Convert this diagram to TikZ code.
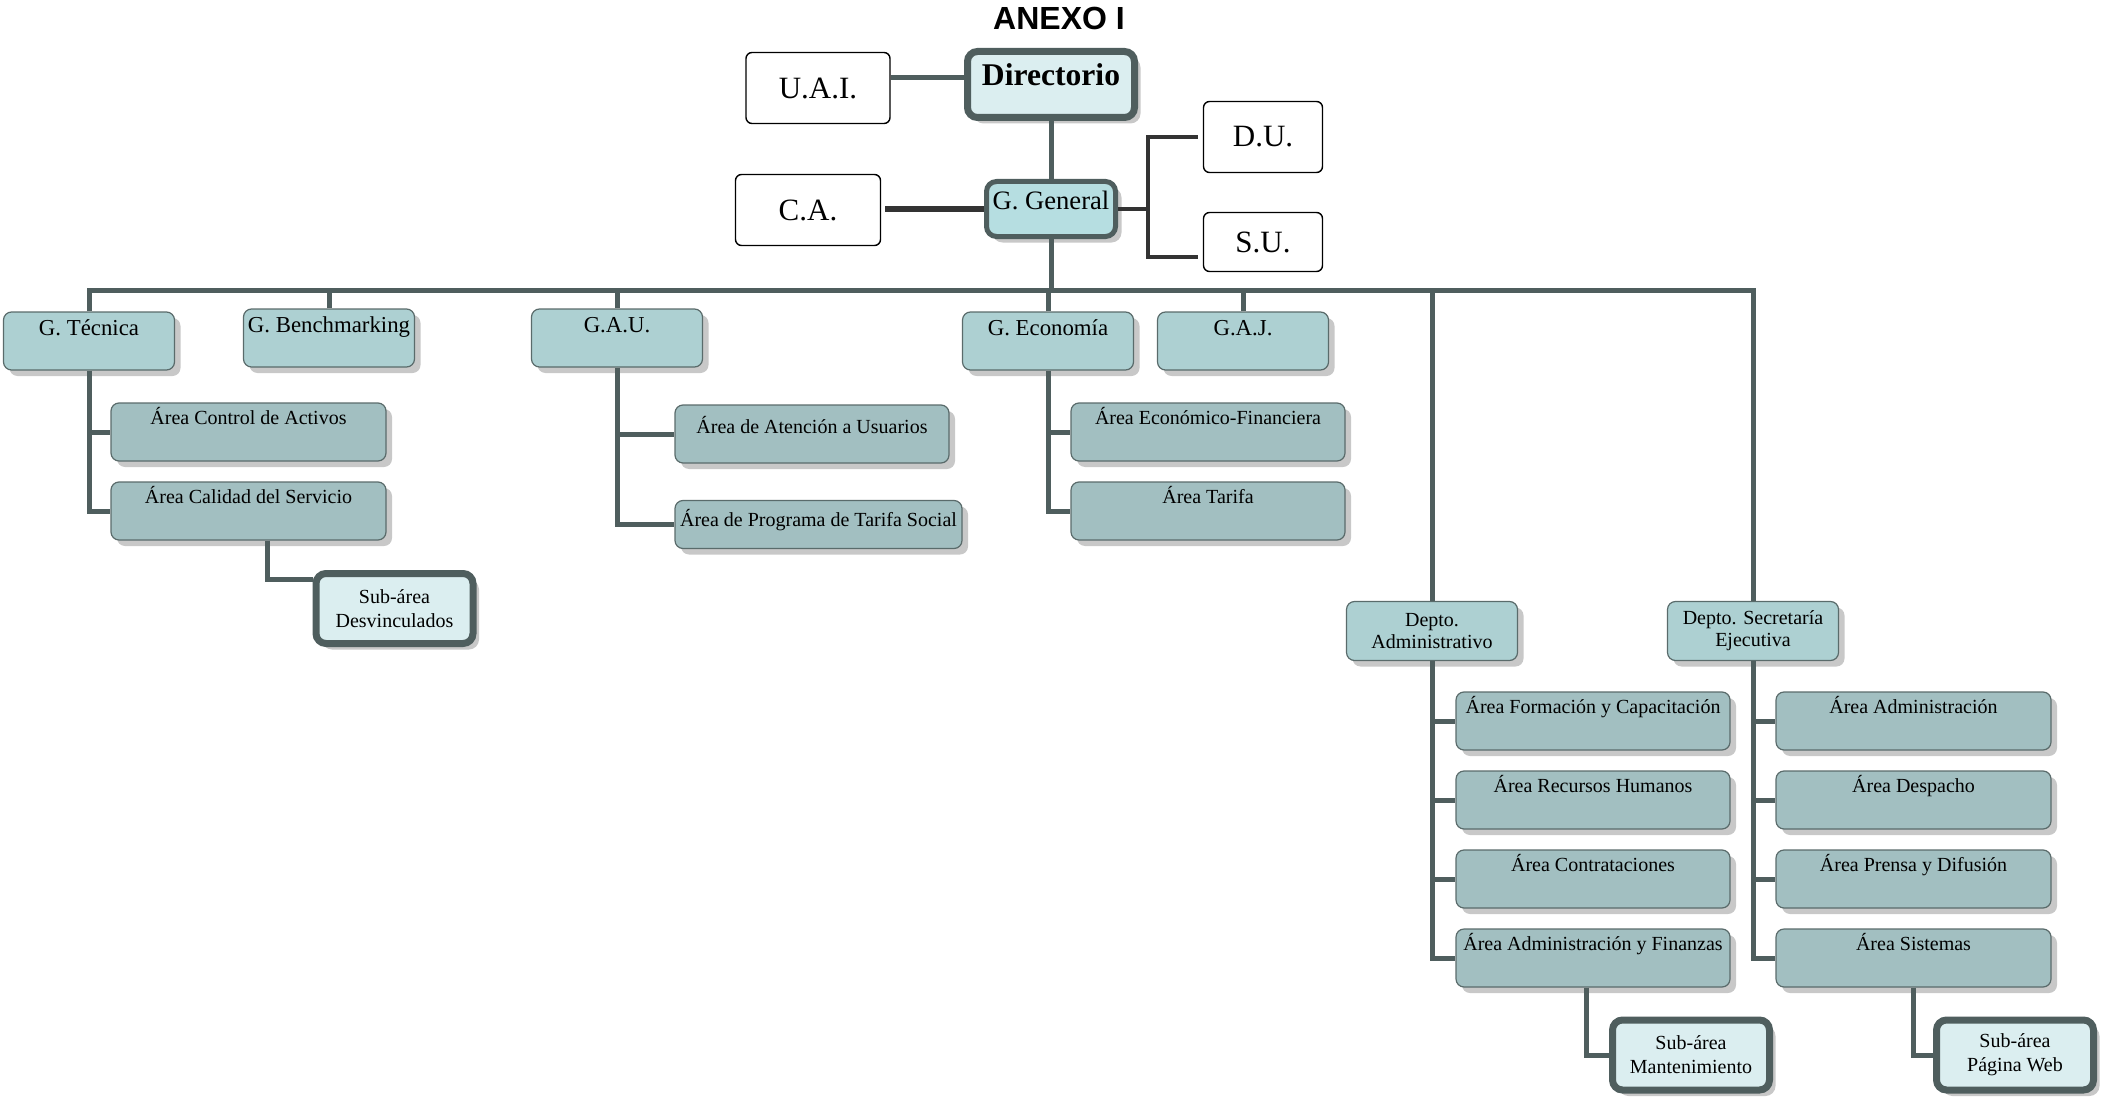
\documentclass[tikz,border=0pt]{standalone}
\usepackage{fontspec}
\setmainfont{Liberation Serif}
\newfontfamily\titlefont{Liberation Sans}
\usetikzlibrary{shadows}

\definecolor{pizarra}{RGB}{79,94,94}
\definecolor{oscuro}{RGB}{51,51,51}
\definecolor{borde}{RGB}{90,107,107}
\definecolor{celeste}{RGB}{219,238,240}
\definecolor{celgen}{RGB}{182,222,225}
\definecolor{gerfill}{RGB}{173,208,210}
\definecolor{areafill}{RGB}{162,191,193}
\definecolor{sombra}{RGB}{200,200,200}

\tikzset{
  simple/.style={draw=black, line width=0.7pt, rounded corners=3pt, fill=white,
    inner sep=0pt, font=\fontsize{15.5}{18}\selectfont},
  conSombra/.style={drop shadow={shadow xshift=3pt, shadow yshift=-3pt, fill=sombra, opacity=1}},
  jefe/.style={conSombra, draw=pizarra, line width=3.5pt, rounded corners=5pt, fill=celeste,
    inner sep=0pt, align=center},
  gerencia/.style={conSombra, draw=borde, line width=0.6pt, rounded corners=4pt, fill=gerfill,
    inner sep=0pt, minimum width=85.5pt, text height=11.8pt, text depth=17.2pt,
    font=\fontsize{11.4}{13}\selectfont},
  depto/.style={conSombra, draw=borde, line width=0.6pt, rounded corners=4pt, fill=gerfill,
    inner sep=0pt, minimum width=85.5pt, minimum height=29.5pt, align=center,
    font=\fontsize{10}{11}\selectfont},
  area/.style={conSombra, draw=borde, line width=0.6pt, rounded corners=4pt, fill=areafill,
    inner sep=0pt, minimum width=137pt, text height=10.8pt, text depth=18.2pt,
    font=\fontsize{10}{12}\selectfont},
  subarea/.style={jefe, minimum width=78.5pt, minimum height=35pt,
    font=\fontsize{10}{12}\selectfont},
  link/.style={draw=pizarra, line width=2.5pt}
}

\begin{document}
\begin{tikzpicture}[x=0.5pt, y=-0.5pt]
\useasboundingbox (0,0) rectangle (2105,1102);

\node (titulo) at (1059,18.5) {\titlefont\bfseries\fontsize{16}{18}\selectfont ANEXO I};

% direccion
\node[simple, minimum width=72pt, minimum height=35.5pt] (uai) at (818,88) {U.A.I.};
\node[jefe, minimum width=83.5pt, text height=17pt, text depth=16pt,
  font=\fontsize{15.8}{18}\selectfont] (dir) at (1051,84.5) {\bfseries Directorio};
\node[simple, minimum width=72.5pt, minimum height=35.5pt] (ca) at (808,210) {C.A.};
\node[jefe, fill=celgen, line width=2.5pt, minimum width=64.5pt, text height=13.9pt,
  text depth=13.6pt, font=\fontsize{13.3}{15}\selectfont] (gg) at (1051,209) {G. General};
\node[simple, minimum width=59.5pt, minimum height=35.5pt] (du) at (1263,137) {D.U.};
\node[simple, minimum width=59.5pt, minimum height=29.5pt] (su) at (1263,242) {S.U.};

% gerencias
\node[gerencia] (gtec) at (89,341) {G. Técnica};
\node[gerencia] (gben) at (329,338) {G. Benchmarking};
\node[gerencia] (gau) at (617,338) {G.A.U.};
\node[gerencia] (geco) at (1048,341) {G. Economía};
\node[gerencia] (gaj) at (1243,341) {G.A.J.};
\node[depto] (dadm) at (1432,631) {Depto.\\Administrativo};
\node[depto] (dsec) at (1753,631) {Depto. Secretaría\\Ejecutiva};

% areas
\node[area, minimum width=137.5pt] (acon) at (248.5,432) {Área Control de Activos};
\node[area, minimum width=137.5pt] (acal) at (248.5,511) {Área Calidad del Servicio};
\node[area, text height=14pt, text depth=15pt] (aatu) at (812,434) {Área de Atención a Usuarios};
\node[area, minimum width=143.5pt, text height=12.8pt, text depth=11.2pt] (aprog) at (818.5,524.5) {Área de Programa de Tarifa Social};
\node[area] (aeco) at (1208,432) {Área Económico-Financiera};
\node[area] (atar) at (1208,511) {Área Tarifa};
\node[area] (aform) at (1593,721) {Área Formación y Capacitación};
\node[area] (arrhh) at (1593,800) {Área Recursos Humanos};
\node[area] (acont) at (1593,879) {Área Contrataciones};
\node[area] (afin) at (1593,958) {Área Administración y Finanzas};
\node[area, minimum width=137.5pt] (aadm) at (1913.5,721) {Área Administración};
\node[area, minimum width=137.5pt] (adesp) at (1913.5,800) {Área Despacho};
\node[area, minimum width=137.5pt] (apren) at (1913.5,879) {Área Prensa y Difusión};
\node[area, minimum width=137.5pt] (asis) at (1913.5,958) {Área Sistemas};

% sub-areas
\node[subarea] (sdes) at (394.5,608.5) {Sub-área\\Desvinculados};
\node[subarea] (smant) at (1691,1055) {Sub-área\\Mantenimiento};
\node[subarea] (sweb) at (2015,1055) {Sub-área\\Página Web};

% enlaces
\draw[link] ([yshift=3.5pt]dir.west) -- ([yshift=3.5pt]dir.west -| uai.east);
\draw[link] (dir.south) -- (gg.north);
\draw[link, draw=oscuro, line width=3pt, shorten >=2pt] (gg.west) -- (gg.west -| ca.east);
\coordinate (horq) at (1148,209);
\draw[link, draw=oscuro, line width=2pt] (gg.east) -- (horq);
\draw[link, draw=oscuro, line width=2pt, shorten <=2.5pt, shorten >=2.5pt]
  ([yshift=-7.5pt]su.west) -| (horq) |- (du.west);

\coordinate (bus) at (1051,290);
\draw[link] (gg.south) -- (gg.south |- bus);
\draw[link] (gtec.north) -- (gtec.north |- bus) -- (bus -| dsec.north) -- (dsec.north);
\foreach \g in {gben,gau,geco,gaj,dadm}
  \draw[link] (\g.north) -- (\g.north |- bus);

\draw[link] (gtec.south) |- (acon.west) (gtec.south) |- (acal.west);
\draw[link] (gau.south) |- (aatu.west) (gau.south) |- (aprog.west);
\draw[link] (geco.south) |- (aeco.west) (geco.south) |- (atar.west);
\draw[link] ([xshift=9.25pt]acal.south) |- ([yshift=14.5pt]sdes.west);
\foreach \a in {aform,arrhh,acont,afin}
  \draw[link] (dadm.south) |- (\a.west);
\foreach \a in {aadm,adesp,apren,asis}
  \draw[link] (dsec.south) |- (\a.west);
\draw[link] ([xshift=-3.5pt]afin.south) |- (smant.west);
\draw[link] (asis.south) |- (sweb.west);

\end{tikzpicture}
\end{document}
